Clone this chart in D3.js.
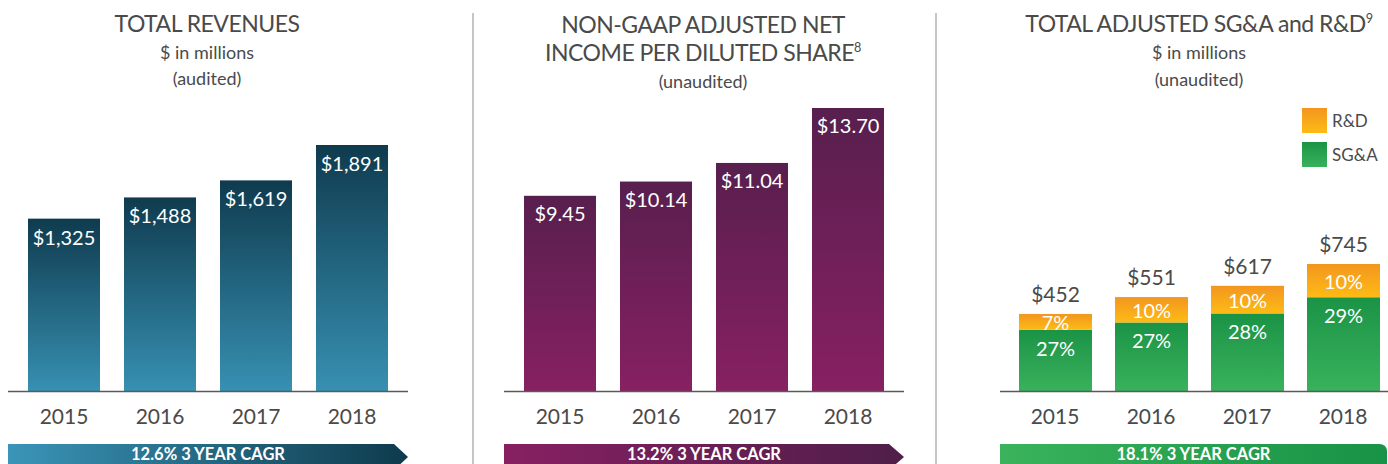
<!DOCTYPE html>
<html><head><meta charset="utf-8">
<script src="https://cdn.jsdelivr.net/npm/d3@7"></script>
<style>
html,body{margin:0;padding:0;background:#fff;}
svg{display:block;font-family:Lato,"Open Sans",sans-serif;}
</style></head>
<body><svg id="c" width="1388" height="464"></svg>
<script>
const years = ["2015","2016","2017","2018"];
const revenues = [1325, 1488, 1619, 1891];
const revenueLabels = ["$1,325","$1,488","$1,619","$1,891"];
const eps = [9.45, 10.14, 11.04, 13.70];
const epsLabels = ["$9.45","$10.14","$11.04","$13.70"];
const sga = [359, 402, 455, 550];
const rnd = [93, 149, 162, 195];
const opexTotals = [452, 551, 617, 745];
const opexLabels = ["$452","$551","$617","$745"];
const sgaPct = ["27%","27%","28%","29%"];
const rndPct = ["7%","10%","10%","10%"];
const cagrs = ["12.6% 3 YEAR CAGR","13.2% 3 YEAR CAGR","18.1% 3 YEAR CAGR"];

const svg = d3.select("#c");
const defs = svg.append("defs");
function vgrad(id, top, bottom){
  const g = defs.append("linearGradient").attr("id", id).attr("x1",0).attr("y1",0).attr("x2",0).attr("y2",1);
  g.append("stop").attr("offset","0%").attr("stop-color",top);
  g.append("stop").attr("offset","100%").attr("stop-color",bottom);
}
function hgrad(id, left, right){
  const g = defs.append("linearGradient").attr("id", id).attr("x1",0).attr("y1",0).attr("x2",1).attr("y2",0);
  g.append("stop").attr("offset","0%").attr("stop-color",left);
  g.append("stop").attr("offset","100%").attr("stop-color",right);
}
vgrad("gRev", "#0f3b4e", "#3790b2");
vgrad("gEps", "#581f4e", "#872062");
vgrad("gSga", "#1b9346", "#39b25c");
vgrad("gRnd", "#f3961f", "#fdbb15");
hgrad("bRev", "#3a95b8", "#0e3a4c");
hgrad("bEps", "#872062", "#4f1e49");
hgrad("bSga", "#3ab35c", "#189246");

const textCol = "#4a4a4a";
const baseY = 391;

// separators
[473, 936].forEach(x => svg.append("line").attr("x1",x).attr("x2",x).attr("y1",13).attr("y2",464)
  .attr("stroke","#c6c6c6").attr("stroke-width",2));

function title(cx, lines){
  lines.forEach(l => {
    const t = svg.append("text").attr("x",cx).attr("y",l.y).attr("text-anchor","middle")
      .attr("fill",textCol).attr("font-size",l.size).attr("letter-spacing", l.ls||0);
    t.append("tspan").text(l.text);
    if (l.sup) t.append("tspan").attr("font-size", l.size*0.55).attr("dy", -l.size*0.38).text(l.sup);
  });
}
title(207, [{text:"TOTAL REVENUES", y:32, size:23, ls:-0.5},
            {text:"$ in millions", y:59, size:18},
            {text:"(audited)", y:85, size:18}]);
title(703, [{text:"NON-GAAP ADJUSTED NET", y:33, size:23, ls:-0.5},
            {text:"INCOME PER DILUTED SHARE", y:61, size:23, ls:-0.5, sup:"8"},
            {text:"(unaudited)", y:88, size:18}]);
title(1199, [{text:"TOTAL ADJUSTED SG&A and R&D", y:32, size:23, ls:-0.5, sup:"9"},
            {text:"$ in millions", y:59, size:18},
            {text:"(unaudited)", y:86, size:18}]);

function band(x0, x1){
  return d3.scaleBand().domain(years).range([x0, x1]).paddingInner(0.25).paddingOuter(0.2083);
}

function axisAndYears(x, xa, xb){
  svg.append("line").attr("x1",xa).attr("x2",xb).attr("y1",baseY+0.5).attr("y2",baseY+0.5)
    .attr("stroke","#5a5a5a").attr("stroke-width",1.5);
  const ax = d3.axisBottom(x).tickSize(0).tickPadding(0);
  const g = svg.append("g").attr("transform",`translate(0,${baseY})`).call(ax);
  g.select(".domain").remove();
  g.selectAll("text").attr("y",33).attr("dy",0).attr("font-size",21).attr("fill",textCol)
    .attr("font-family","Lato, sans-serif");
}

function banner(xa, xb, tipx, fill, label, rounded){
  const top = 444, bot = 470, mid = 457;
  let p;
  if (rounded) {
    p = `M${xa},${top} L${xb-8},${top} Q${xb},${top} ${xb},${top+8} L${xb},${bot} L${xa},${bot} Z`;
  } else {
    p = `M${xa},${top} L${xb},${top} L${tipx},${mid} L${xb},${bot} L${xa},${bot} Z`;
  }
  svg.append("path").attr("d",p).attr("fill",`url(#${fill})`);
  const cx = rounded ? (xa+xb)/2 : (xa+tipx)/2;
  svg.append("text").attr("x",cx).attr("y",460).attr("text-anchor","middle").attr("fill","#fff")
    .attr("font-weight","bold").attr("font-size",16.5).text(label);
}

// Panel 1
{
  const x = band(8, 408);
  const y = d3.scaleLinear().domain([0, 1891]).range([baseY, 145]);
  svg.append("g").selectAll("rect").data(revenues).join("rect")
    .attr("x",(d,i)=>x(years[i])).attr("width",x.bandwidth())
    .attr("y",d=>y(d)).attr("height",d=>baseY-y(d)).attr("fill","url(#gRev)");
  svg.append("g").selectAll("text").data(revenues).join("text")
    .attr("x",(d,i)=>x(years[i])+x.bandwidth()/2).attr("y",d=>y(d)+26)
    .attr("text-anchor","middle").attr("fill","#fff").attr("font-size",20)
    .text((d,i)=>revenueLabels[i]);
  axisAndYears(x, 8, 408);
  banner(8, 394, 408, "bRev", cagrs[0], false);
}
// Panel 2
{
  const x = band(504, 904);
  const y = d3.scaleLinear().domain([0, 13.70]).range([baseY, 108]);
  svg.append("g").selectAll("rect").data(eps).join("rect")
    .attr("x",(d,i)=>x(years[i])).attr("width",x.bandwidth())
    .attr("y",d=>y(d)).attr("height",d=>baseY-y(d)).attr("fill","url(#gEps)");
  svg.append("g").selectAll("text").data(eps).join("text")
    .attr("x",(d,i)=>x(years[i])+x.bandwidth()/2).attr("y",d=>y(d)+25)
    .attr("text-anchor","middle").attr("fill","#fff").attr("font-size",20)
    .text((d,i)=>epsLabels[i]);
  axisAndYears(x, 504, 904);
  banner(504, 889, 904, "bEps", cagrs[1], false);
}
// Panel 3
{
  const x = band(999, 1399);
  const y = d3.scaleLinear().domain([0, 745]).range([baseY, 264]);
  const stackData = years.map((yr,i)=>({year:yr, sga:sga[i], rnd:rnd[i]}));
  const series = d3.stack().keys(["sga","rnd"])(stackData);
  const fills = {sga:"url(#gSga)", rnd:"url(#gRnd)"};
  svg.append("g").selectAll("g").data(series).join("g").attr("fill",s=>fills[s.key])
    .selectAll("rect").data(s=>s).join("rect")
    .attr("x",d=>x(d.data.year)).attr("width",x.bandwidth()+1)
    .attr("y",d=>y(d[1])).attr("height",d=>y(d[0])-y(d[1]));
  const cx = i => x(years[i]) + (x.bandwidth()+1)/2;
  // SG&A pct
  svg.append("g").selectAll("text").data(series[0]).join("text")
    .attr("x",(d,i)=>cx(i)).attr("y",d=>y(d[1])+26).attr("text-anchor","middle")
    .attr("fill","#fff").attr("font-size",20).text((d,i)=>sgaPct[i]);
  // R&D pct
  svg.append("g").selectAll("text").data(series[1]).join("text")
    .attr("x",(d,i)=>cx(i)).attr("y",d=>(y(d[0])+y(d[1]))/2+8).attr("text-anchor","middle")
    .attr("fill","#fff").attr("font-size",20).text((d,i)=>rndPct[i]);
  // totals
  svg.append("g").selectAll("text").data(opexTotals).join("text")
    .attr("x",(d,i)=>cx(i)).attr("y",d=>y(d)-12).attr("text-anchor","middle")
    .attr("fill",textCol).attr("font-size",21).text((d,i)=>opexLabels[i]);
  axisAndYears(x, 1000, 1388);
  banner(1000, 1387, 1387, "bSga", cagrs[2], true);
  // legend
  const leg = [{k:"R&D", f:"url(#gRnd)", y:108},{k:"SG&A", f:"url(#gSga)", y:142}];
  leg.forEach(l=>{
    svg.append("rect").attr("x",1302).attr("y",l.y).attr("width",25).attr("height",25).attr("fill",l.f);
    svg.append("text").attr("x",1332).attr("y",l.y+19).attr("fill",textCol).attr("font-size",17).text(l.k);
  });
}
</script></body></html>
